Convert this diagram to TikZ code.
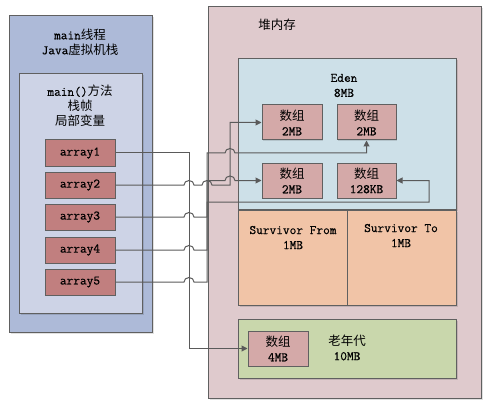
\documentclass[tikz,border=0pt]{standalone}
\usepackage{fontspec}
\newfontfamily\cjkfont{Noto Sans CJK SC}
\setmonofont{Latin Modern Mono}[RawFeature={embolden=0.5}]
\usetikzlibrary{arrows.meta,shadows}
\newcommand\zh[1]{{\cjkfont\fontsize{12.5}{15}\selectfont #1}}
\definecolor{bordc}{HTML}{606060}
\definecolor{linec}{HTML}{5A5A5A}
\definecolor{stackc}{HTML}{ADBAD8}
\definecolor{framec}{HTML}{CDD3E6}
\definecolor{arrc}{HTML}{C17F7F}
\definecolor{heapc}{HTML}{DFCACD}
\definecolor{edenc}{HTML}{CDE0E8}
\definecolor{eboxc}{HTML}{D4A9A8}
\definecolor{survc}{HTML}{F1C4A7}
\definecolor{oldc}{HTML}{C9D7AC}
\begin{document}
\begin{tikzpicture}[x=1pt,y=-1pt,
  box/.style={draw=bordc, line width=1pt, inner sep=0pt, anchor=north west,
    drop shadow={shadow xshift=1.5pt,shadow yshift=-1.5pt,fill=black,opacity=0.12}},
  cbox/.style={draw=bordc, line width=1pt, inner sep=0pt, align=center,
    font=\ttfamily\fontsize{13}{15}\selectfont,
    drop shadow={shadow xshift=1.2pt,shadow yshift=-1.2pt,fill=black,opacity=0.12}},
  lbl/.style={font=\ttfamily\fontsize{13}{15}\selectfont, align=center, inner sep=0pt},
  conn/.style={draw=linec, line width=1pt},
  arr/.style={-{Triangle[length=6pt,width=6pt]}},
  jmp/.style={insert path={arc[start angle=180,end angle=0,x radius=5pt,y radius=4.5pt]}}
]
\useasboundingbox (0,0) rectangle (497,406);

% stack side
\node[box, fill=stackc, minimum width=143pt, minimum height=317pt] (stack) at (9,15) {};
\node[box, fill=framec, minimum width=123pt, minimum height=240pt] (frame) at (19,73) {};
\node[lbl] (stackt) at (80,42) {main\zh{线程}\\Java\zh{虚拟机栈}};
\node[lbl] (framet) at (80,106) {main()\zh{方法}\\\zh{栈帧}\\\zh{局部变量}};
\foreach \i/\y in {1/153,2/185,3/217,4/250,5/282}{
  \node[cbox, fill=arrc, minimum width=70pt, minimum height=26pt] (a\i) at (80,\y) {array\i};
}

% heap side
\node[box, fill=heapc, minimum width=273pt, minimum height=392pt] (heap) at (208,6) {};
\node[lbl] (heapt) at (277,25) {\zh{堆内存}};
\node[box, fill=edenc, minimum width=218pt, minimum height=151pt] (eden) at (238,58) {};
\node[lbl] (edent) at (344,85.5) {Eden\\8MB};
\node[box, fill=survc, minimum width=109pt, minimum height=95pt] (sfrom) at (238,210) {};
\node[box, fill=survc, minimum width=109pt, minimum height=95pt] (sto) at (347,210) {};
\node[lbl] (sfromt) at (293,237.5) {Survivor From\\1MB};
\node[lbl] (stot) at (401,235.5) {Survivor To\\1MB};
\node[box, fill=oldc, minimum width=218pt, minimum height=59pt] (old) at (238,319) {};
\node[lbl] (oldt) at (347,347.5) {\zh{老年代}\\10MB};

\node[cbox, fill=eboxc, minimum width=60pt, minimum height=35pt] (e1) at (292,122.5) {\zh{数组}\\2MB};
\node[cbox, fill=eboxc, minimum width=59pt, minimum height=35pt] (e2) at (366.5,122.5) {\zh{数组}\\2MB};
\node[cbox, fill=eboxc, minimum width=60pt, minimum height=35pt] (e3) at (292,180.5) {\zh{数组}\\2MB};
\node[cbox, fill=eboxc, minimum width=59pt, minimum height=35pt] (e4) at (366.5,180.5) {\zh{数组}\\128KB};
\node[cbox, fill=eboxc, minimum width=60pt, minimum height=35pt] (o1) at (278,348.5) {\zh{数组}\\4MB};

% connectors
\draw[conn,arr] (a1.east) -- (189,153) -- (189,348.5) -- (o1.west);
\draw[conn,arr] (a2.east) -- (184,185) [jmp] -- (202,185) [jmp] -- (230,185) -- (230,122.5) -- (e1.west);
\draw[conn,arr] (a3.east) -- (184,217) [jmp] -- (207,217) -- (207,180.5) -- (225,180.5) [jmp] -- (e3.west);
\draw[conn,arr] (a4.east) -- (184,250) [jmp] -- (207,250) -- (207,202) -- (429,202) -- (429,180.5) -- (e4.east);
\draw[conn,arr] (a5.east) -- (184,282) [jmp] -- (207,282) -- (207,153) -- (225,153) [jmp] -- (366.5,153) -- (e2.south);
\end{tikzpicture}
\end{document}
